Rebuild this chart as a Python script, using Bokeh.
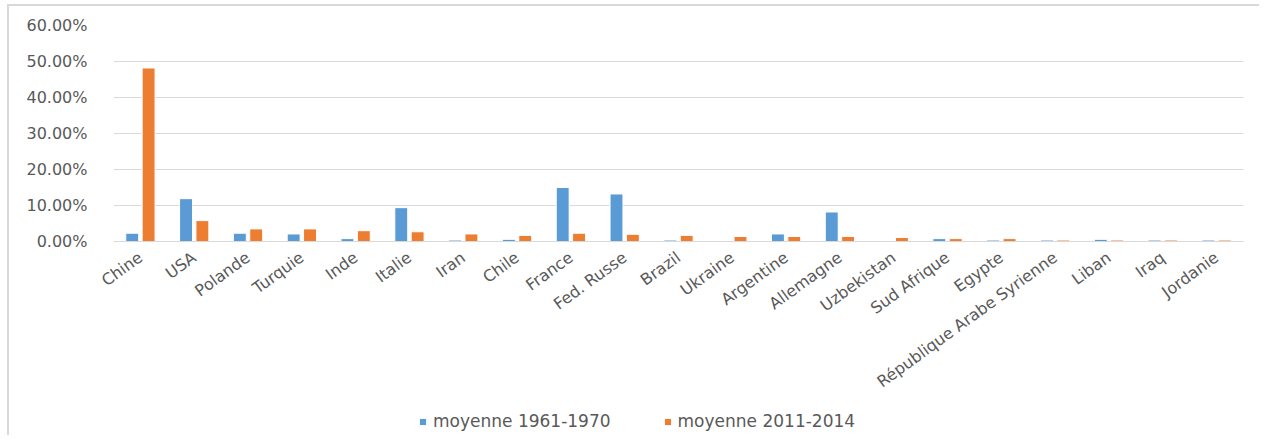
import math
from bokeh.plotting import figure
from bokeh.layouts import column
from bokeh.models import (ColumnDataSource, Legend, LegendItem, PrintfTickFormatter,
                          FixedTicker, Range1d)
from bokeh.transform import dodge
from bokeh.embed import file_html
from bokeh.resources import INLINE

countries = ["Chine", "USA", "Polande", "Turquie", "Inde", "Italie", "Iran", "Chile",
             "France", "Fed. Russe", "Brazil", "Ukraine", "Argentine", "Allemagne",
             "Uzbekistan", "Sud Afrique", "Egypte", "République Arabe Syrienne",
             "Liban", "Iraq", "Jordanie"]
moy_1961_1970 = [2.3, 11.9, 2.3, 2.1, 0.8, 9.4, 0.4, 0.6, 15.0, 13.2, 0.4, 0.0, 2.1, 8.2,
                 0.0, 0.8, 0.4, 0.4, 0.6, 0.4, 0.4]
moy_2011_2014 = [48.2, 5.8, 3.5, 3.5, 3.0, 2.7, 2.1, 1.7, 2.3, 2.0, 1.7, 1.4, 1.4, 1.4,
                 1.1, 0.8, 0.8, 0.4, 0.4, 0.4, 0.4]
y_ticks = [0, 10, 20, 30, 40, 50, 60]
series_names = ["moyenne 1961-1970", "moyenne 2011-2014"]

BLUE = "#5B9BD5"
ORANGE = "#ED7D31"
GRAY_TXT = "#595959"
GRID = "#D9D9D9"
FONT = "DejaVu Sans"

src = ColumnDataSource(dict(c=countries, a=moy_1961_1970, b=moy_2011_2014))

p = figure(x_range=countries, y_range=(0, 60),
           frame_width=1130, frame_height=216,
           output_backend="svg", toolbar_location=None,
           min_border_left=104, min_border_right=12, min_border_top=19, min_border_bottom=160)
p.outline_line_color = None
p.background_fill_color = "white"
p.border_fill_color = "white"

p.vbar(x=dodge("c", -0.152, range=p.x_range), top="a", width=0.24, source=src,
       fill_color=BLUE, line_color="white", line_width=1)
p.vbar(x=dodge("c", 0.152, range=p.x_range), top="b", width=0.24, source=src,
       fill_color=ORANGE, line_color="white", line_width=1)

p.yaxis.ticker = FixedTicker(ticks=y_ticks)
p.yaxis.formatter = PrintfTickFormatter(format="%.2f%%")
p.yaxis.axis_line_color = None
p.yaxis.major_tick_line_color = None
p.yaxis.minor_tick_line_color = None
p.yaxis.major_label_text_font = FONT
p.yaxis.major_label_text_font_size = "16px"
p.yaxis.major_label_text_color = GRAY_TXT
p.yaxis.major_label_standoff = 20

p.xaxis.axis_line_color = GRID
p.xaxis.major_tick_line_color = None
p.xaxis.minor_tick_line_color = None
p.xaxis.major_label_orientation = math.radians(36)
p.xaxis.major_label_text_font = FONT
p.xaxis.major_label_text_font_size = "16px"
p.xaxis.major_label_text_color = GRAY_TXT
p.xaxis.major_label_standoff = 8

p.xgrid.grid_line_color = None
p.ygrid.grid_line_color = GRID
p.ygrid.grid_line_width = 1

# legend strip below the chart (its renderers use the same data, kept out of view)
p2 = figure(width=1250, height=34, x_range=Range1d(1000, 1001), y_range=Range1d(1000, 1001),
            x_axis_type=None, y_axis_type=None, output_backend="svg", toolbar_location=None,
            min_border=0)
p2.outline_line_color = None
p2.grid.grid_line_color = None
p2.border_fill_color = "white"
lr1 = p2.vbar(x="a", top="a", width=0.1, source=src, fill_color=BLUE, line_color="white")
lr2 = p2.vbar(x="b", top="b", width=0.1, source=src, fill_color=ORANGE, line_color="white")
legend = Legend(items=[LegendItem(label=series_names[0], renderers=[lr1]),
                       LegendItem(label=series_names[1], renderers=[lr2])],
                orientation="horizontal", location=(305, 4),
                glyph_width=9, glyph_height=9, label_standoff=6, spacing=52,
                padding=0, margin=0, border_line_color=None, background_fill_alpha=0,
                label_text_font=FONT, label_text_font_size="17px", label_text_color=GRAY_TXT)
p2.add_layout(legend, "center")

layout = column(p, p2, spacing=0)
layout.styles = {"border-left": "2px solid #D9D9D9", "border-top": "2px solid #D9D9D9",
                 "margin-left": "7px", "margin-top": "4px"}

open("out.html", "w").write(file_html(layout, INLINE))
